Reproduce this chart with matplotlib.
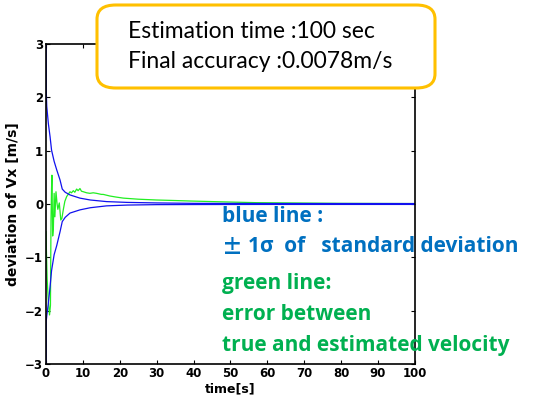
import matplotlib
matplotlib.use('Agg')
import matplotlib.pyplot as plt
from matplotlib.patches import FancyBboxPatch

# sigma envelope (blue)
t_sig = [0, 0.05, 0.2, 0.63, 1.1, 1.5, 2.2, 2.9, 3.8, 4.4, 5.2, 6.5, 9.2, 12, 16.4, 22, 30, 40, 60, 100]
sig_up = [10, 2.15, 1.83, 1.51, 1.26, 1.01, 0.8, 0.64, 0.45, 0.28, 0.22, 0.17, 0.11, 0.075, 0.045,
          0.03, 0.02, 0.012, 0.009, 0.008]
sig_lo = [-10, -2.2, -2.1, -1.86, -1.55, -1.25, -0.95, -0.78, -0.52, -0.33, -0.25, -0.17, -0.11, -0.07,
          -0.035, -0.02, -0.012, -0.01, -0.008, -0.008]

# velocity error (green)
t_err = [0, 0.1, 0.3, 0.6, 0.95, 1.2, 1.35, 1.5, 1.6, 1.8, 2.0, 2.2, 2.4, 2.7, 3.0, 3.2, 3.6, 4.0,
         4.3, 4.7, 5.1, 5.6, 6.0, 6.5, 6.9, 7.4, 7.8, 8.3, 8.7, 9.2, 9.6, 10.1, 11, 11.9, 12.8, 13.7,
         15, 15.5, 17.3, 19, 21, 25, 30, 35, 39, 48, 57, 66, 80, 100]
err = [-0.52, -0.86, -1.4, -1.8, -2.08, -1.9, -0.3, 0.3, 0.54, -0.6, -0.43, 0.2, -0.24, 0.23, 0.0,
       -0.1, 0.02, -0.3, -0.27, -0.1, 0.05, 0.14, 0.18, 0.23, 0.21, 0.25, 0.22, 0.28, 0.25, 0.29, 0.24,
       0.23, 0.21, 0.2, 0.21, 0.2, 0.18, 0.18, 0.15, 0.13, 0.11, 0.09, 0.075, 0.065, 0.056, 0.04,
       0.025, 0.02, 0.012, 0.008]

fig = plt.figure(figsize=(5.37, 4.03), dpi=100)
ax = fig.add_axes([0.0857, 0.0968, 0.687, 0.794])
ax.plot(t_err, err, color='#22ee22', lw=0.9)
ax.plot(t_sig, sig_up, color='#1111ee', lw=0.9)
ax.plot(t_sig, sig_lo, color='#1111ee', lw=0.9)
ax.set_xlim(0, 100)
ax.set_ylim(-3, 3)
ax.set_xticks(range(0, 101, 10))
ax.set_yticks(range(-3, 4))
ax.tick_params(direction='in', top=True, right=True, length=3, labelsize=8.5, pad=2)
for lab in ax.get_xticklabels() + ax.get_yticklabels():
    lab.set_fontweight('bold')
for s in ax.spines.values():
    s.set_linewidth(1.2)
ax.set_xlabel('time[s]', fontsize=9, fontweight='bold', labelpad=2)
ax.set_ylabel('deviation of Vx [m/s]', fontsize=10, fontweight='bold', labelpad=4)

# annotation box
box = FancyBboxPatch((97/537, 1-88/403), (435-97)/537, (88-5)/403,
                     boxstyle='round,pad=0,rounding_size=0.035', transform=fig.transFigure,
                     facecolor='white', edgecolor='#ffc000', lw=2.2, zorder=5)
fig.patches.append(box)
fig.text(128/537, 1-31/403, 'Estimation time :100 sec', fontsize=16.5,
         family='Lato', va='center', ha='left', zorder=6)
fig.text(128/537, 1-62/403, 'Final accuracy :0.0078m/s', fontsize=16.5,
         family='Lato', va='center', ha='left', zorder=6)

blue = '#0070c0'
green = '#00b050'
fam = ['Open Sans', 'Noto Sans CJK JP']
fs = 15
fig.text(222/537, 1-217/403, 'blue line :', color=blue, fontsize=fs, fontweight='bold', family=fam, va='center')
fig.text(222/537, 1-247/403, '±', color=blue, fontsize=fs, fontweight='bold', family='Noto Sans CJK JP', va='center')
fig.text(248/537, 1-247/403, '1σ  of   standard deviation', color=blue, fontsize=fs, fontweight='bold', family=fam, va='center')
fig.text(222/537, 1-283/403, 'green line:', color=green, fontsize=fs, fontweight='bold', family=fam, va='center')
fig.text(222/537, 1-315/403, 'error between', color=green, fontsize=fs, fontweight='bold', family=fam, va='center')
fig.text(222/537, 1-345/403, 'true and estimated velocity', color=green, fontsize=fs, fontweight='bold', family=fam, va='center')

fig.savefig('out.png', dpi=100)
